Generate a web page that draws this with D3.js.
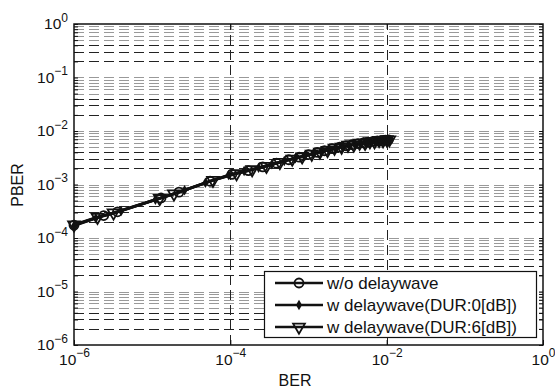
<!DOCTYPE html>
<html>
<head>
<meta charset="utf-8">
<script src="https://cdn.jsdelivr.net/npm/d3@7"></script>
<style>
  body { margin: 0; background: #fff; }
  svg { display: block; font-family: "Liberation Sans", Arial, sans-serif; }
</style>
</head>
<body>
<div id="chart"></div>
<script>
// x ticks with labels (every other decade), y ticks with labels (every decade)
var xTicks = [1e-6, 1e-4, 1e-2, 1];
var xGrid = [1e-4, 1e-2];
var yTicks = [1e-6, 1e-5, 1e-4, 1e-3, 1e-2, 1e-1, 1];
var seriesNames = ["w/o delaywave", "w delaywave(DUR:0[dB])", "w delaywave(DUR:6[dB])"];

// w/o delaywave (circles)
var berA = [1e-6, 2.4e-6, 3.6e-6, 1.3e-5, 2.2e-5, 5.5e-5, 1.05e-4, 1.7e-4, 2.6e-4, 3.9e-4, 5.6e-4, 7.6e-4,
  1.0e-3, 1.3e-3, 1.6e-3, 2.0e-3, 2.5e-3, 3.0e-3, 3.6e-3, 4.3e-3, 5.0e-3, 5.8e-3, 6.7e-3, 7.6e-3, 8.6e-3, 9.6e-3, 1.05e-2];
var pberA = [1.74e-4, 2.63e-4, 3.09e-4, 5.6e-4, 7.2e-4, 1.15e-3, 1.55e-3, 1.82e-3, 2.14e-3, 2.5e-3, 2.9e-3, 3.24e-3,
  3.63e-3, 3.98e-3, 4.27e-3, 4.68e-3, 5.0e-3, 5.3e-3, 5.56e-3, 5.8e-3, 6.0e-3, 6.17e-3, 6.38e-3, 6.53e-3, 6.6e-3, 6.76e-3, 6.84e-3];

// w delaywave DUR:0 dB (dots)
var berB = [1e-6, 1.9e-6, 4.0e-6, 1.1e-5, 2.6e-5, 4.8e-5, 9.5e-5, 1.5e-4, 2.3e-4, 3.4e-4, 4.9e-4, 6.8e-4, 9.0e-4, 1.15e-3,
  1.45e-3, 1.8e-3, 2.2e-3, 2.7e-3, 3.3e-3, 3.9e-3, 4.6e-3, 5.4e-3, 6.2e-3, 7.1e-3, 8.1e-3, 9.1e-3, 1.02e-2, 1.1e-2];
var pberB = [1.70e-4, 2.35e-4, 3.2e-4, 5.2e-4, 7.8e-4, 1.08e-3, 1.5e-3, 1.78e-3, 2.05e-3, 2.4e-3, 2.75e-3, 3.1e-3, 3.45e-3, 3.75e-3,
  4.1e-3, 4.5e-3, 4.7e-3, 5.15e-3, 5.3e-3, 5.7e-3, 5.75e-3, 6.15e-3, 6.1e-3, 6.5e-3, 6.4e-3, 6.75e-3, 6.7e-3, 6.9e-3];

// w delaywave DUR:6 dB (triangles)
var berC = [1e-6, 2.0e-6, 3.2e-6, 1.25e-5, 1.9e-5, 6.0e-5, 1.2e-4, 1.9e-4, 2.9e-4, 4.3e-4, 6.2e-4, 8.3e-4, 1.1e-3, 1.4e-3,
  1.75e-3, 2.15e-3, 2.65e-3, 3.2e-3, 3.8e-3, 4.5e-3, 5.3e-3, 6.1e-3, 7.0e-3, 8.0e-3, 9.0e-3, 1.0e-2, 1.08e-2];
var pberC = [1.76e-4, 2.45e-4, 2.95e-4, 5.5e-4, 6.7e-4, 1.2e-3, 1.6e-3, 1.9e-3, 2.2e-3, 2.6e-3, 3.0e-3, 3.3e-3, 3.7e-3, 4.05e-3,
  4.35e-3, 4.8e-3, 5.0e-3, 5.45e-3, 5.5e-3, 5.95e-3, 5.9e-3, 6.35e-3, 6.3e-3, 6.7e-3, 6.6e-3, 6.9e-3, 6.85e-3];

var width = 555, height = 388;
var plotL = 74, plotR = 543, plotT = 24, plotB = 345;

var svg = d3.select("#chart").append("svg")
  .attr("width", width).attr("height", height);

var x = d3.scaleLog().domain([1e-6, 1]).range([plotL, plotR]);
var y = d3.scaleLog().domain([1e-6, 1]).range([plotB, plotT]);

var mantissa = function (v) { return Math.round(v / Math.pow(10, Math.floor(Math.log10(v) + 1e-9))); };

// horizontal grid (all log ticks)
var grid = svg.append("g").attr("fill", "none").attr("stroke-width", 1).attr("stroke-dasharray", "10,5");
grid.selectAll(".hgrid").data(y.ticks().filter(function (d) { return d > 1e-6 && d < 1; }))
  .enter().append("line")
  .attr("x1", plotL).attr("x2", plotR)
  .attr("y1", function (d) { return Math.round(y(d)) + 0.5; })
  .attr("y2", function (d) { return Math.round(y(d)) + 0.5; })
  .attr("stroke", function (d) { var m = mantissa(d); return (m >= 2 && m <= 4) ? "#222" : "#999"; });

// vertical grid, labelled decades only
grid.selectAll(".vgrid").data(xGrid).enter().append("line")
  .attr("x1", function (d) { return Math.round(x(d)) + 0.5; })
  .attr("x2", function (d) { return Math.round(x(d)) + 0.5; })
  .attr("y1", plotB).attr("y2", plotT)
  .attr("stroke", "#222");

function supLabel(sel) {
  sel.each(function (d) {
    var t = d3.select(this).text("");
    var e = Math.round(Math.log10(d));
    t.append("tspan").text("10");
    t.append("tspan").attr("font-size", 12).attr("dy", "-0.65em").text(e === 0 ? "0" : "\u2212" + Math.abs(e));
  });
}

// bottom axis
var gx = svg.append("g").attr("transform", "translate(0," + plotB + ")")
  .call(d3.axisBottom(x).tickValues(xTicks).tickSizeInner(-5).tickSizeOuter(0).tickPadding(9).tickFormat(function () { return ""; }));
gx.selectAll(".tick text").attr("font-size", 15.5).attr("fill", "#111").call(supLabel);

// top axis ticks
svg.append("g").attr("transform", "translate(0," + plotT + ")")
  .call(d3.axisTop(x).tickValues(xGrid).tickSizeInner(-5).tickSizeOuter(0).tickFormat(""))
  .selectAll("text").remove();

// left axis
var gy = svg.append("g").attr("transform", "translate(" + plotL + ",0)")
  .call(d3.axisLeft(y).tickValues(y.ticks()).tickSizeInner(-4).tickSizeOuter(0).tickPadding(6).tickFormat(function () { return ""; }));
gy.selectAll(".tick text").filter(function (d) { return !yTicks.some(function (t) { return Math.abs(t - d) / t < 1e-9; }); }).remove();
gy.selectAll(".tick text").attr("font-size", 15.5).attr("fill", "#111").call(supLabel);

// right axis ticks
svg.append("g").attr("transform", "translate(" + plotR + ",0)")
  .call(d3.axisRight(y).tickValues(y.ticks()).tickSizeInner(-4).tickSizeOuter(0).tickFormat(""))
  .selectAll("text").remove();

svg.selectAll(".domain").remove();
svg.selectAll(".tick line").attr("stroke", "#111");

// frame
svg.append("rect").attr("x", plotL).attr("y", plotT)
  .attr("width", plotR - plotL).attr("height", plotB - plotT)
  .attr("fill", "none").attr("stroke", "#111").attr("stroke-width", 1.5);

// axis titles
svg.append("text").attr("x", 295).attr("y", 386).attr("text-anchor", "middle")
  .attr("font-size", 16).attr("fill", "#111").text("BER");
svg.append("text").attr("transform", "translate(23,185) rotate(-90)").attr("text-anchor", "middle")
  .attr("font-size", 16).attr("fill", "#111").text("PBER");

// series
var series = [
  { name: seriesNames[0], ber: berA, pber: pberA, marker: "circle" },
  { name: seriesNames[1], ber: berB, pber: pberB, marker: "dot" },
  { name: seriesNames[2], ber: berC, pber: pberC, marker: "triangle" }
];

var line = d3.line().x(function (d) { return x(d[0]); }).y(function (d) { return y(d[1]); });

function drawMarker(g, type) {
  if (type === "circle") {
    g.append("circle").attr("r", 4.5).attr("fill", "none").attr("stroke", "#111").attr("stroke-width", 1.8);
  } else if (type === "dot") {
    g.append("path").attr("d", d3.symbol().type(d3.symbolDiamond).size(32)()).attr("fill", "#111");
  } else {
    g.append("path").attr("d", d3.symbol().type(d3.symbolTriangle).size(60)())
      .attr("transform", "rotate(180)")
      .attr("fill", "none").attr("stroke", "#111").attr("stroke-width", 1.8);
  }
}

var plot = svg.append("g");
series.forEach(function (s) {
  var pts = s.ber.map(function (b, i) { return [b, s.pber[i]]; });
  plot.append("path").attr("d", line(pts)).attr("fill", "none")
    .attr("stroke", "#111").attr("stroke-width", 2.8).attr("stroke-linejoin", "round");
  pts.forEach(function (p) {
    var g = plot.append("g").attr("transform", "translate(" + x(p[0]) + "," + y(p[1]) + ")");
    drawMarker(g, s.marker);
  });
});

// legend
var lg = svg.append("g");
lg.append("rect").attr("x", 264.5).attr("y", 271.5).attr("width", 272).attr("height", 66)
  .attr("fill", "#fff").attr("stroke", "#111").attr("stroke-width", 1.2);
series.forEach(function (s, i) {
  var yy = 283 + i * 22;
  lg.append("line").attr("x1", 275).attr("x2", 323).attr("y1", yy).attr("y2", yy)
    .attr("stroke", "#111").attr("stroke-width", 2.5);
  var g = lg.append("g").attr("transform", "translate(299," + yy + ")");
  drawMarker(g, s.marker);
  lg.append("text").attr("x", 327).attr("y", yy).attr("dy", "0.36em")
    .attr("font-size", 17).attr("fill", "#111").text(s.name);
});
</script>
</body>
</html>
